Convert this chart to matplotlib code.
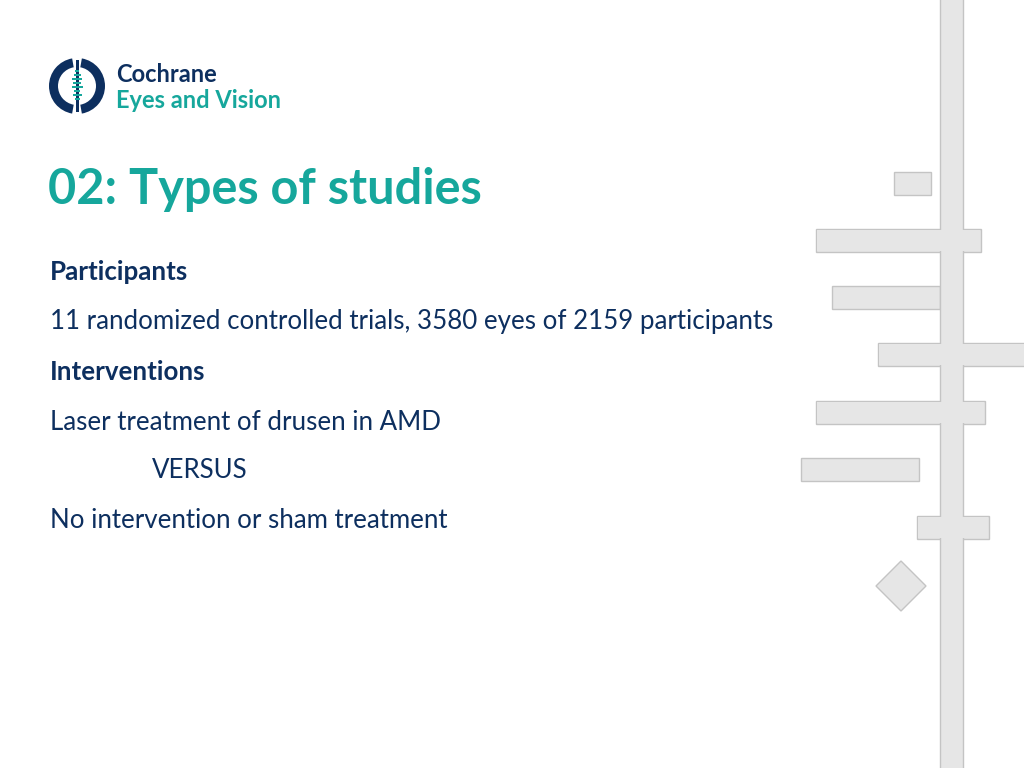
import matplotlib.pyplot as plt
from matplotlib.patches import Rectangle, Polygon, Wedge

NAVY = "#0d2f5f"
TEAL = "#16a79c"
GREY = "#e6e6e6"
EDGE = "#c4c4c4"

title = "02: Types of studies"
lines = [
    ("Participants", True, 50),
    ("11 randomized controlled trials, 3580 eyes of 2159 participants", False, 50),
    ("Interventions", True, 50),
    ("Laser treatment of drusen in AMD", False, 50),
    ("VERSUS", False, 152),
    ("No intervention or sham treatment", False, 50),
]
line_y = [272, 322, 372, 422, 471, 521]

# decorative bars: (x0, x1, y0, y1) in pixels
bars = [(894, 931, 172, 195), (816, 981, 229, 252), (832, 940, 286, 309),
        (878, 1030, 343, 366), (816, 985, 401, 424), (801, 919, 458, 481),
        (917, 989, 516, 539)]

fig = plt.figure(figsize=(10.24, 7.68), dpi=100)
ax = fig.add_axes([0, 0, 1, 1])
ax.set_xlim(0, 1024)
ax.set_ylim(768, 0)
ax.axis("off")

# right decoration
for x0, x1, y0, y1 in bars:
    ax.add_patch(Rectangle((x0, y0), x1 - x0, y1 - y0, fc=GREY, ec=EDGE, lw=1, zorder=1))
ax.add_patch(Rectangle((940, -5), 23, 780, fc=GREY, ec=EDGE, lw=1, zorder=2))
for x0, x1, y0, y1 in bars:
    if x1 > 940 and x0 < 963:
        ax.add_patch(Rectangle((x0 + 1, y0 + 1), x1 - x0 - 2, y1 - y0 - 2, fc=GREY, ec="none", zorder=3))
ax.add_patch(Polygon([(901, 561), (926, 586), (901, 611), (876, 586)], fc=GREY, ec=EDGE, lw=1))

# logo
ax.add_patch(Wedge((77, 86), 28, 100, 260, width=9, fc=NAVY, ec="none"))
ax.add_patch(Wedge((77, 86), 28, -80, 80, width=9, fc=NAVY, ec="none"))
ax.add_patch(Rectangle((75.5, 60), 3, 52, fc=NAVY, ec="none"))
for i, w in enumerate([4, 7, 10, 8, 11, 6, 9, 5]):
    ax.add_patch(Rectangle((77 - w / 2, 70 + i * 4), w, 1.6, fc=TEAL, ec="none"))
ax.text(116, 74, "Cochrane", color=NAVY, fontsize=17, fontweight="bold",
        family="Lato", va="center")
ax.text(116, 100, "Eyes and Vision", color=TEAL, fontsize=17, fontweight="bold",
        family="Lato", va="center")

ax.text(48, 189, title, color=TEAL, fontsize=35, fontweight="bold",
        family="Lato", va="center")

for (txt, bold, x), y in zip(lines, line_y):
    ax.text(x, y, txt, color=NAVY, fontsize=18.6, family="Lato",
            fontweight="bold" if bold else "normal", va="center")

fig.savefig("out.png", dpi=100)
